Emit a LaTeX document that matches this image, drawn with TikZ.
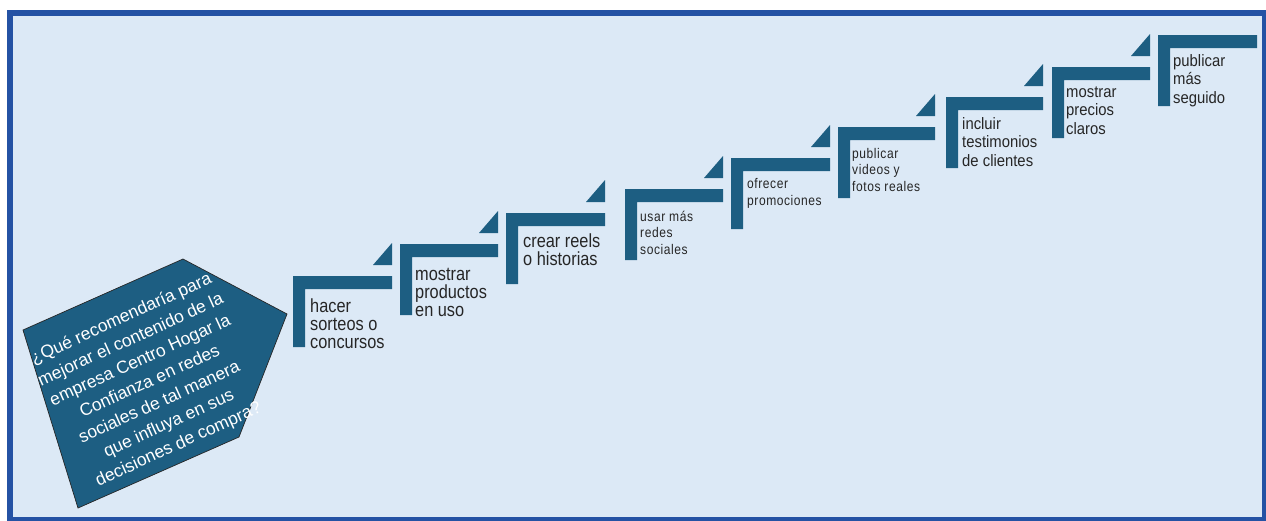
\documentclass[tikz,border=0pt]{standalone}
\usepackage{fontspec}
\setmainfont{Liberation Sans}
% condensed faces for the step labels
\newfontfamily\stepbigfont[FakeStretch=0.86]{Liberation Sans}
\newfontfamily\stepsmallfont[FakeStretch=0.86,LetterSpace=4]{Liberation Sans}
\newfontfamily\stepmidfont[FakeStretch=0.9]{Liberation Sans}

\definecolor{barcol}{HTML}{1D5E82}
\definecolor{bgcol}{HTML}{DCE9F6}
\definecolor{framecol}{HTML}{2452A4}
\definecolor{txtcol}{HTML}{262626}

% one stair step: L-shaped bracket with its top-left corner at (#1,#2), bar ending at #3
\newcommand\stairbar[3]{%
  \fill[barcol] (#1,#2) -- (#3,#2) -- (#3,#2+13) -- (#1+12,#2+13)
    -- (#1+12,#2+71) -- (#1,#2+71) -- cycle;}
% small wedge sitting above the right end of a bar
\newcommand\stairwedge[2]{%
  \fill[barcol] (#1-19,#2-11) -- (#1,#2-11) -- (#1,#2-33) -- cycle;}

% labels are placed by the baseline of their last line
\tikzset{
  steplabel/.style={anchor=base west, align=left, inner sep=0pt, text=txtcol},
  biglabel/.style={steplabel, font=\stepbigfont\fontsize{19}{18}\selectfont},
  smalllabel/.style={steplabel, font=\stepsmallfont\fontsize{14}{16.5}\selectfont},
  midlabel/.style={steplabel, font=\stepmidfont\fontsize{16.5}{18.5}\selectfont},
}

\begin{document}
\begin{tikzpicture}[x=1pt,y=-1pt]
\useasboundingbox (0,0) rectangle (1266,520);

% framed background panel
\draw[line width=6pt, draw=framecol, fill=bgcol] (10,13) rectangle (1265,520);

% question shape
\draw[fill=barcol, draw=black!85, line width=0.7pt]
  (183,259) -- (287,314) -- (239,437) -- (78,508) -- (23,330) -- cycle;
\node[rotate=24.5, align=center, text=white, inner sep=0pt,
      font=\fontsize{17.5}{23}\selectfont] (question) at (150,382)
  {¿Qué recomendaría para\\mejorar el contenido de la\\empresa Centro Hogar la\\Confianza en redes\\sociales de tal manera\\que influya en sus\\decisiones de compra?};

% stairs
\stairbar{293}{276}{392}  \stairwedge{392}{276}
\stairbar{400}{244}{498}  \stairwedge{498}{244}
\stairbar{506}{213}{605}  \stairwedge{605}{213}
\stairbar{625}{189}{723}  \stairwedge{723}{189}
\stairbar{731}{158}{830}  \stairwedge{830}{158}
\stairbar{838}{127}{935}  \stairwedge{935}{127}
\stairbar{946}{97}{1043}  \stairwedge{1043}{97}
\stairbar{1052}{67}{1150} \stairwedge{1150}{67}
\stairbar{1158}{35}{1257}

% step labels
\node[biglabel]   (s1) at (310,348)  {hacer\\sorteos o\\concursos};
\node[biglabel]   (s2) at (415,316)  {mostrar\\productos\\en uso};
\node[biglabel]   (s3) at (523,265)  {crear reels\\o historias};
\node[smalllabel] (s4) at (640,254)  {usar más\\redes\\sociales};
\node[smalllabel] (s5) at (747,205)  {ofrecer\\promociones};
\node[smalllabel] (s6) at (852,191)  {publicar\\videos y\\fotos reales};
\node[midlabel]   (s7) at (962,166)  {incluir\\testimonios\\de clientes};
\node[midlabel]   (s8) at (1066,134) {mostrar\\precios\\claros};
\node[midlabel]   (s9) at (1173,103) {publicar\\más\\seguido};
\end{tikzpicture}
\end{document}
